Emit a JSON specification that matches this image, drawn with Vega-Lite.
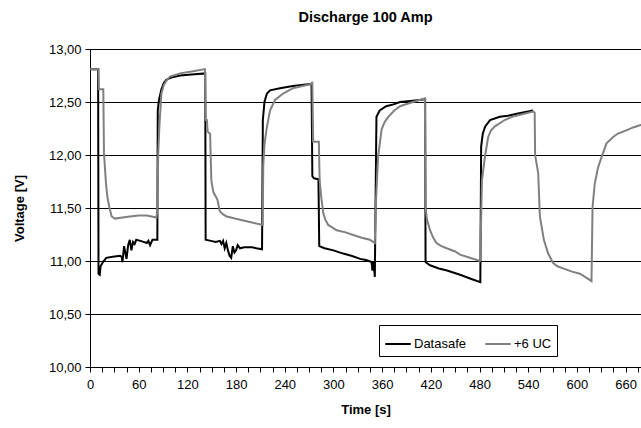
{
  "$schema": "https://vega.github.io/schema/vega-lite/v6.json",
  "width": 551,
  "height": 318,
  "autosize": "none",
  "padding": {"left": 90, "top": 49, "right": 0, "bottom": 61},
  "background": "white",
  "config": {
    "font": "Liberation Sans",
    "view": {"stroke": null},
    "axis": {"labelFont": "Liberation Sans", "titleFont": "Liberation Sans", "labelColor": "black", "titleColor": "black", "domainColor": "black", "tickColor": "black", "labelFontSize": 13, "titleFontSize": 13, "titleFontWeight": "bold"}
  },
  "title": {"text": "Discharge 100 Amp", "fontSize": 14.5, "fontWeight": "bold", "font": "Liberation Sans", "color": "black", "anchor": "middle", "frame": "group", "offset": 18},
  "data": {"values": [
    {"t":0,"v":12.81,"s":"Datasafe"},{"t":10,"v":12.81,"s":"Datasafe"},{"t":10.5,"v":10.88,"s":"Datasafe"},{"t":12,"v":10.87,"s":"Datasafe"},{"t":13,"v":10.95,"s":"Datasafe"},{"t":16,"v":10.99,"s":"Datasafe"},{"t":20,"v":11.03,"s":"Datasafe"},{"t":28,"v":11.04,"s":"Datasafe"},{"t":37,"v":11.05,"s":"Datasafe"},{"t":39,"v":11.04,"s":"Datasafe"},{"t":40,"v":10.99,"s":"Datasafe"},{"t":42,"v":11.14,"s":"Datasafe"},{"t":44,"v":11.06,"s":"Datasafe"},{"t":45,"v":11.02,"s":"Datasafe"},{"t":47,"v":11.15,"s":"Datasafe"},{"t":49,"v":11.2,"s":"Datasafe"},{"t":51,"v":11.1,"s":"Datasafe"},{"t":53,"v":11.18,"s":"Datasafe"},{"t":55,"v":11.16,"s":"Datasafe"},{"t":57,"v":11.2,"s":"Datasafe"},{"t":62,"v":11.19,"s":"Datasafe"},{"t":66,"v":11.18,"s":"Datasafe"},{"t":70,"v":11.17,"s":"Datasafe"},{"t":72,"v":11.19,"s":"Datasafe"},{"t":74,"v":11.15,"s":"Datasafe"},{"t":77,"v":11.2,"s":"Datasafe"},{"t":83,"v":11.2,"s":"Datasafe"},{"t":83.5,"v":12.42,"s":"Datasafe"},{"t":85,"v":12.52,"s":"Datasafe"},{"t":88,"v":12.62,"s":"Datasafe"},{"t":91,"v":12.68,"s":"Datasafe"},{"t":94,"v":12.71,"s":"Datasafe"},{"t":100,"v":12.73,"s":"Datasafe"},{"t":111,"v":12.75,"s":"Datasafe"},{"t":125,"v":12.76,"s":"Datasafe"},{"t":142,"v":12.77,"s":"Datasafe"},{"t":142.5,"v":11.2,"s":"Datasafe"},{"t":149,"v":11.19,"s":"Datasafe"},{"t":155,"v":11.18,"s":"Datasafe"},{"t":160,"v":11.19,"s":"Datasafe"},{"t":162,"v":11.16,"s":"Datasafe"},{"t":164,"v":11.19,"s":"Datasafe"},{"t":166,"v":11.12,"s":"Datasafe"},{"t":168,"v":11.17,"s":"Datasafe"},{"t":170,"v":11.1,"s":"Datasafe"},{"t":172,"v":11.05,"s":"Datasafe"},{"t":174,"v":11.03,"s":"Datasafe"},{"t":176,"v":11.14,"s":"Datasafe"},{"t":178,"v":11.08,"s":"Datasafe"},{"t":180,"v":11.1,"s":"Datasafe"},{"t":182,"v":11.15,"s":"Datasafe"},{"t":185,"v":11.12,"s":"Datasafe"},{"t":190,"v":11.13,"s":"Datasafe"},{"t":200,"v":11.13,"s":"Datasafe"},{"t":205,"v":11.12,"s":"Datasafe"},{"t":212,"v":11.11,"s":"Datasafe"},{"t":213,"v":12.33,"s":"Datasafe"},{"t":215,"v":12.5,"s":"Datasafe"},{"t":218,"v":12.58,"s":"Datasafe"},{"t":222,"v":12.61,"s":"Datasafe"},{"t":234,"v":12.63,"s":"Datasafe"},{"t":250,"v":12.65,"s":"Datasafe"},{"t":273,"v":12.67,"s":"Datasafe"},{"t":274,"v":11.8,"s":"Datasafe"},{"t":276,"v":11.78,"s":"Datasafe"},{"t":281.5,"v":11.77,"s":"Datasafe"},{"t":282.5,"v":11.14,"s":"Datasafe"},{"t":289,"v":11.12,"s":"Datasafe"},{"t":300,"v":11.1,"s":"Datasafe"},{"t":312,"v":11.07,"s":"Datasafe"},{"t":322,"v":11.05,"s":"Datasafe"},{"t":333,"v":11.02,"s":"Datasafe"},{"t":340,"v":11.01,"s":"Datasafe"},{"t":347,"v":10.99,"s":"Datasafe"},{"t":348,"v":10.91,"s":"Datasafe"},{"t":349,"v":11.0,"s":"Datasafe"},{"t":350,"v":10.95,"s":"Datasafe"},{"t":351,"v":10.85,"s":"Datasafe"},{"t":352.3,"v":11.86,"s":"Datasafe"},{"t":353,"v":12.36,"s":"Datasafe"},{"t":357,"v":12.42,"s":"Datasafe"},{"t":365,"v":12.46,"s":"Datasafe"},{"t":375,"v":12.48,"s":"Datasafe"},{"t":382,"v":12.5,"s":"Datasafe"},{"t":395,"v":12.51,"s":"Datasafe"},{"t":413,"v":12.525,"s":"Datasafe"},{"t":413.5,"v":10.99,"s":"Datasafe"},{"t":419,"v":10.96,"s":"Datasafe"},{"t":430,"v":10.93,"s":"Datasafe"},{"t":440,"v":10.91,"s":"Datasafe"},{"t":456,"v":10.87,"s":"Datasafe"},{"t":470,"v":10.83,"s":"Datasafe"},{"t":481,"v":10.8,"s":"Datasafe"},{"t":482,"v":12.08,"s":"Datasafe"},{"t":484,"v":12.2,"s":"Datasafe"},{"t":487,"v":12.27,"s":"Datasafe"},{"t":493,"v":12.33,"s":"Datasafe"},{"t":505,"v":12.36,"s":"Datasafe"},{"t":515,"v":12.37,"s":"Datasafe"},{"t":526,"v":12.39,"s":"Datasafe"},{"t":546,"v":12.42,"s":"Datasafe"},
    {"t":0,"v":12.81,"s":"+6 UC"},{"t":10.5,"v":12.81,"s":"+6 UC"},{"t":11,"v":12.62,"s":"+6 UC"},{"t":16.4,"v":12.62,"s":"+6 UC"},{"t":17.2,"v":12.02,"s":"+6 UC"},{"t":19.7,"v":11.73,"s":"+6 UC"},{"t":21.5,"v":11.6,"s":"+6 UC"},{"t":23.8,"v":11.51,"s":"+6 UC"},{"t":26.7,"v":11.42,"s":"+6 UC"},{"t":30.8,"v":11.4,"s":"+6 UC"},{"t":40,"v":11.41,"s":"+6 UC"},{"t":49,"v":11.42,"s":"+6 UC"},{"t":60,"v":11.43,"s":"+6 UC"},{"t":70,"v":11.43,"s":"+6 UC"},{"t":82,"v":11.41,"s":"+6 UC"},{"t":83,"v":11.5,"s":"+6 UC"},{"t":84,"v":12.0,"s":"+6 UC"},{"t":85.5,"v":12.27,"s":"+6 UC"},{"t":88,"v":12.58,"s":"+6 UC"},{"t":91,"v":12.66,"s":"+6 UC"},{"t":94,"v":12.7,"s":"+6 UC"},{"t":98.6,"v":12.74,"s":"+6 UC"},{"t":111,"v":12.77,"s":"+6 UC"},{"t":127,"v":12.79,"s":"+6 UC"},{"t":141.6,"v":12.81,"s":"+6 UC"},{"t":142.5,"v":12.33,"s":"+6 UC"},{"t":144,"v":12.33,"s":"+6 UC"},{"t":145,"v":12.22,"s":"+6 UC"},{"t":148,"v":12.2,"s":"+6 UC"},{"t":149.5,"v":11.76,"s":"+6 UC"},{"t":152,"v":11.65,"s":"+6 UC"},{"t":157,"v":11.58,"s":"+6 UC"},{"t":160,"v":11.47,"s":"+6 UC"},{"t":164,"v":11.44,"s":"+6 UC"},{"t":168.5,"v":11.42,"s":"+6 UC"},{"t":185,"v":11.39,"s":"+6 UC"},{"t":201,"v":11.36,"s":"+6 UC"},{"t":212.8,"v":11.34,"s":"+6 UC"},{"t":213.5,"v":11.9,"s":"+6 UC"},{"t":215,"v":12.1,"s":"+6 UC"},{"t":217.7,"v":12.25,"s":"+6 UC"},{"t":221.8,"v":12.42,"s":"+6 UC"},{"t":228,"v":12.52,"s":"+6 UC"},{"t":238,"v":12.58,"s":"+6 UC"},{"t":250,"v":12.63,"s":"+6 UC"},{"t":273,"v":12.67,"s":"+6 UC"},{"t":274,"v":12.69,"s":"+6 UC"},{"t":275,"v":12.125,"s":"+6 UC"},{"t":282,"v":12.125,"s":"+6 UC"},{"t":283,"v":11.76,"s":"+6 UC"},{"t":285,"v":11.6,"s":"+6 UC"},{"t":287.5,"v":11.45,"s":"+6 UC"},{"t":290,"v":11.39,"s":"+6 UC"},{"t":293.6,"v":11.34,"s":"+6 UC"},{"t":304,"v":11.29,"s":"+6 UC"},{"t":315,"v":11.27,"s":"+6 UC"},{"t":324.4,"v":11.245,"s":"+6 UC"},{"t":335,"v":11.22,"s":"+6 UC"},{"t":345,"v":11.2,"s":"+6 UC"},{"t":351,"v":11.17,"s":"+6 UC"},{"t":352,"v":11.5,"s":"+6 UC"},{"t":355,"v":11.98,"s":"+6 UC"},{"t":359.3,"v":12.24,"s":"+6 UC"},{"t":363,"v":12.31,"s":"+6 UC"},{"t":367.6,"v":12.36,"s":"+6 UC"},{"t":375,"v":12.42,"s":"+6 UC"},{"t":382,"v":12.46,"s":"+6 UC"},{"t":398,"v":12.5,"s":"+6 UC"},{"t":412.7,"v":12.535,"s":"+6 UC"},{"t":413.5,"v":11.51,"s":"+6 UC"},{"t":415,"v":11.4,"s":"+6 UC"},{"t":419,"v":11.29,"s":"+6 UC"},{"t":423,"v":11.22,"s":"+6 UC"},{"t":427,"v":11.17,"s":"+6 UC"},{"t":433,"v":11.14,"s":"+6 UC"},{"t":439.5,"v":11.12,"s":"+6 UC"},{"t":450,"v":11.09,"s":"+6 UC"},{"t":456,"v":11.06,"s":"+6 UC"},{"t":468,"v":11.03,"s":"+6 UC"},{"t":480.5,"v":11.0,"s":"+6 UC"},{"t":482,"v":11.4,"s":"+6 UC"},{"t":483,"v":11.76,"s":"+6 UC"},{"t":486.6,"v":11.98,"s":"+6 UC"},{"t":490.7,"v":12.17,"s":"+6 UC"},{"t":494,"v":12.23,"s":"+6 UC"},{"t":499,"v":12.27,"s":"+6 UC"},{"t":511,"v":12.33,"s":"+6 UC"},{"t":520,"v":12.36,"s":"+6 UC"},{"t":530,"v":12.38,"s":"+6 UC"},{"t":546,"v":12.41,"s":"+6 UC"},{"t":548,"v":12.4,"s":"+6 UC"},{"t":548.5,"v":12.0,"s":"+6 UC"},{"t":552.3,"v":11.83,"s":"+6 UC"},{"t":554.4,"v":11.42,"s":"+6 UC"},{"t":559.3,"v":11.2,"s":"+6 UC"},{"t":564.6,"v":11.07,"s":"+6 UC"},{"t":570.8,"v":10.98,"s":"+6 UC"},{"t":576,"v":10.95,"s":"+6 UC"},{"t":583,"v":10.93,"s":"+6 UC"},{"t":594,"v":10.9,"s":"+6 UC"},{"t":603.7,"v":10.88,"s":"+6 UC"},{"t":612,"v":10.84,"s":"+6 UC"},{"t":618,"v":10.81,"s":"+6 UC"},{"t":619.3,"v":11.51,"s":"+6 UC"},{"t":622,"v":11.73,"s":"+6 UC"},{"t":626,"v":11.88,"s":"+6 UC"},{"t":630.4,"v":11.98,"s":"+6 UC"},{"t":636.5,"v":12.11,"s":"+6 UC"},{"t":644.7,"v":12.17,"s":"+6 UC"},{"t":650,"v":12.2,"s":"+6 UC"},{"t":657,"v":12.22,"s":"+6 UC"},{"t":663,"v":12.24,"s":"+6 UC"},{"t":669.4,"v":12.26,"s":"+6 UC"},{"t":677.6,"v":12.28,"s":"+6 UC"},{"t":683,"v":12.29,"s":"+6 UC"}
  ]},
  "mark": {"type": "line", "strokeWidth": 2, "clip": true, "interpolate": "linear"},
  "encoding": {
    "x": {"field": "t", "type": "quantitative", "scale": {"domain": [0, 679], "nice": false, "zero": false},
      "axis": {"title": "Time [s]", "grid": false, "values": [0,15,30,45,60,75,90,105,120,135,150,165,180,195,210,225,240,255,270,285,300,315,330,345,360,375,390,405,420,435,450,465,480,495,510,525,540,555,570,585,600,615,630,645,660,675],
        "labelExpr": "datum.value % 60 == 0 ? datum.label : ''", "tickSize": 5, "labelPadding": 6, "titlePadding": 12, "labelFlush": false, "labelOverlap": false}},
    "y": {"field": "v", "type": "quantitative", "scale": {"domain": [10, 13], "nice": false, "zero": false},
      "axis": {"title": "Voltage [V]", "values": [10,10.5,11,11.5,12,12.5,13], "labelExpr": "replace(format(datum.value, '.2f'), '.', ',')", "grid": true, "gridColor": "black", "gridOpacity": 1, "gridWidth": 1, "tickSize": 5, "labelPadding": 4, "titlePadding": 22}},
    "color": {"field": "s", "type": "nominal", "sort": ["Datasafe", "+6 UC"], "scale": {"domain": ["Datasafe", "+6 UC"], "range": ["black", "#808080"]},
      "legend": {"title": null, "orient": "none", "legendX": 289, "legendY": 276, "direction": "horizontal", "symbolType": "stroke", "symbolSize": 650, "symbolStrokeWidth": 2, "labelFontSize": 13, "labelFont": "Liberation Sans", "labelColor": "black", "strokeColor": "black", "fillColor": "white", "padding": 5, "columnPadding": 14, "labelOffset": 2}}
  }
}
